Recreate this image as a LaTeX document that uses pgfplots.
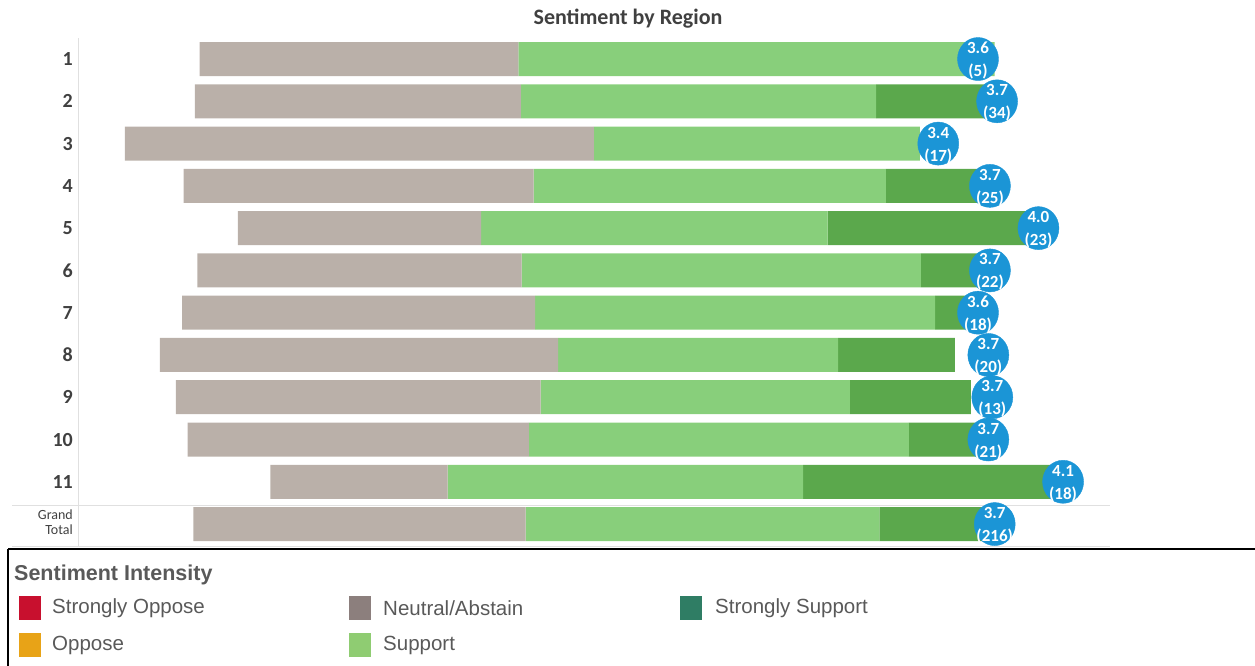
\documentclass[border=0pt]{standalone}
\usepackage{pgfplots}
\pgfplotsset{compat=1.18}
\usepackage{pgfplotstable}
\usepackage{fontspec}
\setmainfont{Carlito}
\newfontfamily\arialf{Liberation Sans}
\definecolor{neutral}{HTML}{BAB0A9}
\definecolor{sup}{HTML}{88CF7B}
\definecolor{ssup}{HTML}{5BA84C}
\definecolor{cblue}{HTML}{1B95D6}
\definecolor{lab}{HTML}{404040}
\definecolor{legtxt}{HTML}{595959}
\definecolor{lSO}{HTML}{C8102E}
\definecolor{lO}{HTML}{E8A317}
\definecolor{lN}{HTML}{8C7F7D}
\definecolor{lS}{HTML}{8FCC72}
\definecolor{lSS}{HTML}{2F7D64}
\definecolor{gridl}{HTML}{E0E0E0}

\pgfplotstableread{
row off neu sup ssup
1 15.3 40.1 59.9 0
2 14.7 41.0 44.7 14.3
3 5.9 59.0 41.0 0
4 13.3 44.0 44.3 11.7
5 20.1 30.6 43.6 25.8
6 15.0 40.8 50.2 9.0
7 13.1 44.4 50.3 5.3
8 10.3 50.1 35.2 14.7
9 12.3 45.9 38.9 15.2
10 13.8 42.9 47.8 9.3
11 24.2 22.3 44.7 33.0
12 14.5 41.8 44.5 13.7
}\bardata

\pgfplotstableread{
x row avg n
113.2 1 3.6 (5)
115.6 2 3.7 (34)
108.2 3 3.4 (17)
114.7 4 3.7 (25)
120.8 5 4.0 (23)
114.7 6 3.7 (22)
113.2 7 3.6 (18)
114.5 8 3.7 (20)
115.0 9 3.7 (13)
114.5 10 3.7 (21)
123.9 11 4.1 (18)
115.3 12 3.7 (216)
}\circdata

\begin{document}
\begin{tikzpicture}
\useasboundingbox (0pt,0pt) rectangle (1255pt,666pt);
\begin{scope}[x=1pt,y=1pt]
\draw[gridl, line width=0.8pt] (78,666-38) -- (78,666-546);
\draw[gridl, line width=0.8pt] (12,666-505) -- (1110,666-505);
\draw[gridl, line width=0.8pt] (12,666-546) -- (1110,666-546);
\node[font=\bfseries\fontsize{22}{26}\selectfont, text=lab] at (628,666-19) {Sentiment by Region};
\end{scope}

\begin{axis}[at={(78pt,120.8pt)}, anchor=south west, scale only axis,
  width=1032pt, height=507.3pt,
  xmin=0, xmax=129.8, ymin=0.5, ymax=12.5, y dir=reverse,
  xbar stacked, bar width=34pt,
  axis line style={draw=none},
  xtick=\empty, ytick={1,...,12}, major tick length=0pt,
  yticklabels={1,2,3,4,5,6,7,8,9,10,11,{\fontsize{14}{16}\selectfont\mdseries\begin{tabular}{@{}r@{}}Grand\\[-1pt]Total\end{tabular}}},
  yticklabel style={font=\bfseries\fontsize{20}{24}\selectfont, text=lab, anchor=east, inner sep=0pt, xshift=-5pt},
  clip=false]
\addplot[draw=none, fill=none] table[x=off, y=row] {\bardata};
\addplot[draw=none, fill=neutral] table[x=neu, y=row] {\bardata};
\addplot[draw=none, fill=sup] table[x=sup, y=row] {\bardata};
\addplot[draw=none, fill=ssup] table[x=ssup, y=row] {\bardata};
\end{axis}

\begin{axis}[at={(78pt,120.8pt)}, anchor=south west, scale only axis,
  width=1032pt, height=507.3pt,
  xmin=0, xmax=129.8, ymin=0.5, ymax=12.5, y dir=reverse,
  hide axis, clip=false]
\addplot[only marks, mark=*, mark size=20.5pt, color=cblue, mark options={draw=none, fill=cblue, yscale=1.05}] table[x=x, y=row] {\circdata};
\addplot[draw=none, mark=none, point meta=explicit symbolic, nodes near coords,
  nodes near coords style={anchor=center, yshift=11pt, text=white, inner sep=0pt, font=\bfseries\fontsize{17}{20}\selectfont}]
  table[x=x, y=row, meta=avg] {\circdata};
\addplot[draw=none, mark=none, point meta=explicit symbolic, nodes near coords,
  nodes near coords style={anchor=center, yshift=-12.5pt, text=white, inner sep=0pt, font=\bfseries\fontsize{17}{20}\selectfont}]
  table[x=x, y=row, meta=n] {\circdata};
\end{axis}

\begin{scope}[x=1pt,y=1pt]
\draw[black, line width=1.6pt] (8,666-549) -- (1256,666-549);
\draw[black, line width=1.6pt] (8,666-549) -- (8,-2);
\node[anchor=west, inner sep=0pt, font=\arialf\bfseries\fontsize{21.5}{24}\selectfont, text=legtxt] at (14,666-575) {Sentiment Intensity};
\fill[lSO] (19,666-596) rectangle (41,666-620);
\fill[lO] (19,666-633) rectangle (41,666-657);
\fill[lN] (349,666-596) rectangle (371,666-620);
\fill[lS] (349,666-633) rectangle (371,666-657);
\fill[lSS] (680,666-596) rectangle (702,666-620);
\begin{scope}[every node/.style={anchor=west, inner sep=0pt, font=\arialf\fontsize{20.5}{23}\selectfont, text=legtxt}]
\node at (52,666-608) {Strongly Oppose};
\node at (52,666-645) {Oppose};
\node at (383,666-608) {Neutral/Abstain};
\node at (383,666-645) {Support};
\node at (715,666-608) {Strongly Support};
\end{scope}
\end{scope}
\end{tikzpicture}
\end{document}
